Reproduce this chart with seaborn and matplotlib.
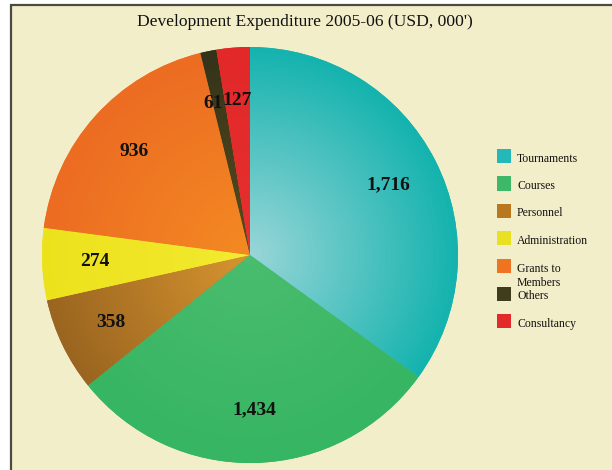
import numpy as np
import matplotlib.pyplot as plt
import matplotlib.colors as mcolors
from matplotlib.patches import Rectangle
import seaborn as sns

# Development expenditure 2005-06, USD thousands
categories = ["Tournaments", "Courses", "Personnel", "Administration",
              "Grants to\nMembers", "Others", "Consultancy"]
values = [1716, 1434, 358, 274, 936, 61, 127]

# colour at the rim and lighter colour near the centre of each slice
outer_colors = ["#14b3ae", "#36b562", "#9a6520", "#ece21c", "#ec6c22", "#33331a", "#e22828"]
inner_colors = ["#9ad6d8", "#4abd6e", "#d89530", "#f4ea30", "#f48a22", "#5a4c1c", "#e83030"]
legend_colors = ["#25b8b8", "#3cb868", "#b9781f", "#e8e020", "#ee7422", "#3e3e1c", "#e22a2a"]

sns.set_theme(style="white")
plt.rcParams["font.family"] = ["Liberation Serif", "DejaVu Serif"]

W, H = 612, 470
fig = plt.figure(figsize=(W / 100, H / 100), dpi=100, facecolor="white")

# cream panel with dark frame
fig.patches.append(Rectangle((11 / W, -0.05), 1.0, 1 - 5 / H + 0.05,
                             transform=fig.transFigure, facecolor="#f3eeca",
                             edgecolor="#4a4a44", linewidth=1.6, zorder=-5))

fig.text(305 / W, 1 - 22 / H, "Development Expenditure 2005-06 (USD, 000')",
         ha="center", va="center", fontsize=12.6, color="#111111")

ax = fig.add_axes([42 / W, 7 / H, 416 / W, 416 / H])
ax.set_facecolor("none")
ax.set_zorder(2)

total = sum(values)
wedges, texts, autotexts = ax.pie(
    values, startangle=90, counterclock=False, radius=1,
    colors=outer_colors, wedgeprops=dict(linewidth=0),
    autopct=lambda p: f"{round(p * total / 100):,}", pctdistance=0.745,
    textprops=dict(fontsize=14, fontweight="bold", color="#111111"))

# radial shading inside every slice
n = 400
xx, yy = np.meshgrid(np.linspace(-1, 1, n), np.linspace(-1, 1, n))
rr = np.clip(np.sqrt(xx ** 2 + yy ** 2), 0, 1)[..., None]
for w, c_in, c_out in zip(wedges, inner_colors, outer_colors):
    ci = np.array(mcolors.to_rgb(c_in))
    co = np.array(mcolors.to_rgb(c_out))
    img = ci * (1 - rr) + co * rr
    im = ax.imshow(img, extent=[-1, 1, -1, 1], origin="lower", zorder=1.5,
                   interpolation="bilinear")
    im.set_clip_path(w)
for t in autotexts:
    t.set_zorder(3)
# the two thin slices sit side by side: let their labels just touch
autotexts[5].set_ha("right")
autotexts[5].set_x(autotexts[6].get_position()[0] - 0.07)

ax.set_xlim(-1, 1)
ax.set_ylim(-1, 1)
ax.axis("off")

# legend: even steps, the two-line label hangs below its swatch
step = 27.5
for i, (lab, col) in enumerate(zip(categories, legend_colors)):
    yc = 156 + step * i
    fig.patches.append(Rectangle((497 / W, 1 - (yc + 7) / H), 14 / W, 14 / H,
                                 transform=fig.transFigure, facecolor=col,
                                 edgecolor="none", zorder=3))
    fig.text(517 / W, 1 - (yc - 3.5) / H, lab, ha="left", va="top",
             fontsize=8.5, color="#111111", linespacing=1.25)

fig.savefig("out.png", dpi=100, facecolor="white")
